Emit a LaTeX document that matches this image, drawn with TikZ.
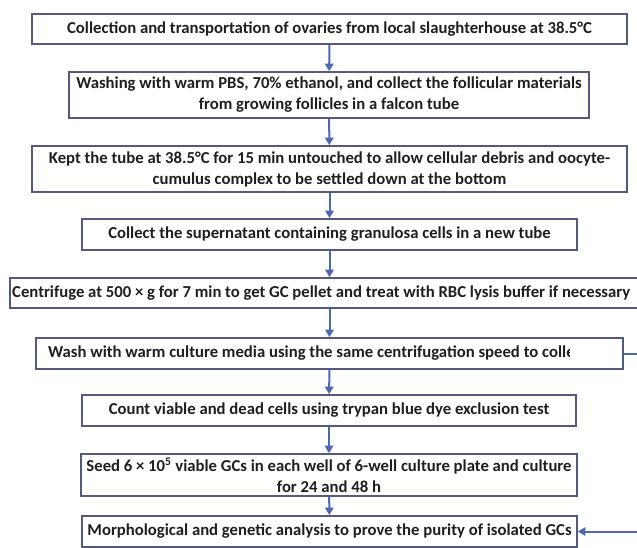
\documentclass[tikz,border=0pt]{standalone}
\usepackage{fontspec}
\setmainfont{Carlito}
\usetikzlibrary{arrows.meta}
\definecolor{boxline}{HTML}{55587F}
\definecolor{arrowblue}{HTML}{4E68B0}
\tikzset{
  boxfont/.style={font=\fontsize{16.7}{21}\selectfont\bfseries, text=black!88},
  stepbox/.style={draw=boxline, line width=1.8pt, inner sep=0pt, align=center, boxfont},
  flow/.style={draw=arrowblue, line width=2pt, -{Triangle[length=7.5pt,width=8.5pt]}},
  plain/.style={draw=arrowblue, line width=2pt}
}
\begin{document}
\begin{tikzpicture}[x=1pt,y=-1pt]
\useasboundingbox (0,0) rectangle (637,548);
\clip (0,0) rectangle (637,548);
\fill[white] (0,0) rectangle (637,548);
\node[stepbox, minimum width=595pt, minimum height=30pt] (b1) at (329.5,29)
  {Collection and transportation of ovaries from local slaughterhouse at 38.5°C};
\node[stepbox, minimum width=520pt, minimum height=46pt] (b2) at (329,95)
  {Washing with warm PBS, 70\% ethanol, and collect the follicular materials\\from growing follicles in a falcon tube};
\node[stepbox, minimum width=595pt, minimum height=46pt] (b3) at (329.5,169)
  {Kept the tube at 38.5°C for 15 min untouched to allow cellular debris and oocyte-\\cumulus complex to be settled down at the bottom};
\node[stepbox, minimum width=495pt, minimum height=31pt] (b4) at (329.5,234.5)
  {Collect the supernatant containing granulosa cells in a new tube};
\node[stepbox, minimum width=639pt, minimum height=30pt] (b5) at (329.5,293) {};
\node[boxfont, inner sep=0pt, anchor=west] (t5) at (12,293)
  {Centrifuge at 500 × g for 7 min to get GC pellet and treat with RBC lysis buffer if necessary};
\node[stepbox, minimum width=587pt, minimum height=31pt] (b6) at (329.5,353.5) {};
\begin{scope}
\clip (40,340) rectangle (569,368);
\node[boxfont, inner sep=0pt, anchor=west] (t6) at (48,353.5)
  {Wash with warm culture media using the same centrifugation speed to collect};
\end{scope}
\node[stepbox, minimum width=494pt, minimum height=31pt] (b7) at (329,410.5)
  {Count viable and dead cells using trypan blue dye exclusion test};
\node[stepbox, minimum width=496pt, minimum height=42pt] (b8) at (329,475)
  {Seed 6 × 10\textsuperscript{5} viable GCs in each well of 6-well culture plate and culture\\for 24 and 48 h};
\node[stepbox, minimum width=495pt, minimum height=31pt] (b9) at (329.5,531.5)
  {Morphological and genetic analysis to prove the purity of isolated GCs};
\draw[flow] (b1) -- (b2);
\draw[flow] (b2) -- (b3);
\draw[flow] (b3) -- (b4);
\draw[flow] (b4) -- (b5);
\draw[flow] (b5) -- (b6);
\draw[flow] (b6) -- (b7);
\draw[flow] (b7) -- (b8);
\draw[flow] (b8) -- (b9);
\coordinate (r1) at (640,353.5);
\coordinate (r2) at (640,531.5);
\draw[plain] (b6.east) -- (r1);
\draw[flow] (r2) -- (b9.east);
\end{tikzpicture}
\end{document}
